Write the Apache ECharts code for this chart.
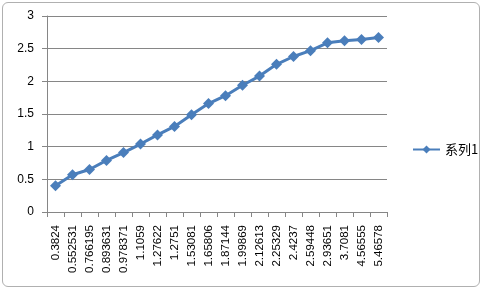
<!DOCTYPE html>
<html><head><meta charset="utf-8">
<script src="https://cdn.jsdelivr.net/npm/echarts@6/dist/echarts.min.js"></script>
<style>
html,body{margin:0;padding:0;background:#fff;}
#wrap{position:absolute;left:2px;top:2px;width:476px;height:283px;border:1px solid #b0b0b0;border-radius:6px;background:#fff;}
#c{position:absolute;left:-3px;top:-3px;width:482px;height:289px;}
</style></head>
<body><div id="wrap"><div id="c"></div></div>
<script>
var categories = ["0.3824","0.552531","0.766195","0.893631","0.978371","1.1059","1.27622","1.2751","1.53081","1.65806","1.87144","1.99869","2.12613","2.25329","2.4237","2.59448","2.93651","3.7081","4.56555","5.46578"];
var seriesName = "系列1";
var values = [0.40,0.57,0.65,0.79,0.91,1.04,1.18,1.31,1.49,1.66,1.78,1.94,2.08,2.26,2.38,2.47,2.59,2.62,2.64,2.67];
var chart = echarts.init(document.getElementById('c'));
var font = '"Liberation Sans", Arial, sans-serif';
chart.setOption({
  animation:false,
  grid:{left:47,right:95,top:16,bottom:77,containLabel:false},
  legend:{data:[seriesName],orient:'vertical',left:407,top:138,itemWidth:27,itemHeight:10,itemGap:4,
    textStyle:{fontSize:13,color:'#000',fontFamily:'"Noto Sans CJK SC", sans-serif'}},
  xAxis:{type:'category',data:categories,boundaryGap:true,
    axisLine:{lineStyle:{color:'#868686',width:1}},
    axisTick:{show:true,alignWithLabel:false,length:5,lineStyle:{color:'#868686'}},
    axisLabel:{rotate:90,fontSize:11.5,color:'#000',fontFamily:font,interval:0,margin:13}},
  yAxis:{type:'value',min:0,max:3,interval:0.5,
    axisLine:{show:true,lineStyle:{color:'#868686',width:1}},
    axisTick:{show:true,length:5,lineStyle:{color:'#868686'}},
    splitLine:{lineStyle:{color:'#868686',width:1}},
    axisLabel:{fontSize:12,color:'#000',fontFamily:font,margin:13}},
  series:[{name:seriesName,type:'line',data:values,symbol:'diamond',symbolSize:11,
    lineStyle:{color:'#4a7ebb',width:3},itemStyle:{color:'#4a7ebb'}}]
});
</script></body></html>
